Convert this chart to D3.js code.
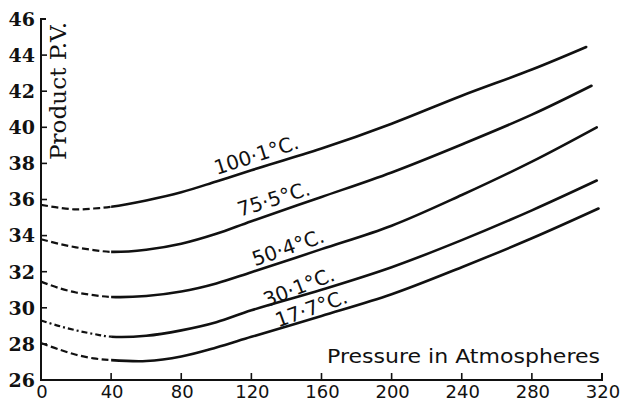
<!DOCTYPE html>
<html>
<head>
<meta charset="utf-8">
<script src="https://cdn.jsdelivr.net/npm/d3@7"></script>
<style>
  html, body { margin: 0; padding: 0; background: #fff; }
  svg { display: block; }
</style>
</head>
<body>
<svg id="chart" width="625" height="404"></svg>
<script>
// ---- data ----
const pressure = [0, 10, 20, 30, 40, 60, 80, 100, 120, 160, 200, 240, 280];
const endPressure = [311, 314, 317, 317, 318];
const temperatures = ["100·1°C.", "75·5°C.", "50·4°C.", "30·1°C.", "17·7°C."];
const pv100 = [35.7, 35.55, 35.45, 35.5, 35.6, 35.95, 36.4, 37.0, 37.62, 38.82, 40.2, 41.75, 43.2, 44.45];
const pv75  = [33.8, 33.55, 33.35, 33.2, 33.1, 33.22, 33.55, 34.1, 34.8, 36.14, 37.5, 39.05, 40.7, 42.3];
const pv50  = [31.45, 31.1, 30.85, 30.7, 30.6, 30.65, 30.9, 31.35, 31.97, 33.25, 34.55, 36.25, 38.1, 40.0];
const pv30  = [29.3, 29.0, 28.75, 28.55, 28.4, 28.45, 28.75, 29.2, 29.86, 31.0, 32.25, 33.75, 35.4, 37.05];
const pv17  = [28.05, 27.7, 27.4, 27.2, 27.1, 27.05, 27.3, 27.8, 28.39, 29.55, 30.75, 32.25, 33.85, 35.5];
const seriesValues = [pv100, pv75, pv50, pv30, pv17];
const xTicks = [0, 40, 80, 120, 160, 200, 240, 280, 320];
const yTicks = [26, 28, 30, 32, 34, 36, 38, 40, 42, 44, 46];
const dashedUntil = 40;

// label placement (pressure where label starts, pixel offset from curve, angle)
const labelAt = [100.2, 113.5, 122.1, 128.7, 135.4];
const labelDy = [-6.4, -8.6, -4.7, 1.4, -1.3];
const labelAngle = [-17.8, -17.2, -19.2, -21.5, -19.6];

// ---- layout ----
const svg = d3.select("#chart");
const x = d3.scaleLinear().domain([0, 320]).range([41, 602]);
const y = d3.scaleLinear().domain([26, 46]).range([380, 19]);
const ink = "#111";

// clip regions for dashed / solid parts
const defs = svg.append("defs");
defs.append("clipPath").attr("id", "clipDash").append("rect")
  .attr("x", 0).attr("y", 0).attr("width", x(dashedUntil)).attr("height", 404);
defs.append("clipPath").attr("id", "clipSolid").append("rect")
  .attr("x", x(dashedUntil)).attr("y", 0).attr("width", 625 - x(dashedUntil)).attr("height", 404);

// axes
const g = svg.append("g");
g.append("path")
  .attr("d", `M${x(0)+5},${y(46)} H${x(0)} V${y(26)} H${x(320)} V${y(26)-7}`)
  .attr("fill", "none").attr("stroke", ink).attr("stroke-width", 2);

// y ticks (inward)
g.selectAll(".yt").data(yTicks.filter(d => d > 26 && d < 46)).enter()
  .append("line")
  .attr("x1", x(0)).attr("x2", x(0) + 6)
  .attr("y1", d => y(d)).attr("y2", d => y(d))
  .attr("stroke", ink).attr("stroke-width", 1.6);

// x ticks (upward)
g.selectAll(".xt").data(xTicks.filter(d => d > 0 && d < 320)).enter()
  .append("line")
  .attr("x1", d => x(d)).attr("x2", d => x(d))
  .attr("y1", y(26)).attr("y2", y(26) - 7)
  .attr("stroke", ink).attr("stroke-width", 1.6);

// y tick labels
g.selectAll(".yl").data(yTicks).enter()
  .append("text")
  .attr("x", 35)
  .attr("y", d => y(d))
  .attr("dy", "0.36em")
  .attr("text-anchor", "end")
  .attr("font-family", "DejaVu Serif")
  .attr("font-weight", "bold")
  .attr("font-size", 19)
  .attr("fill", ink)
  .text(d => d);

// x tick labels
g.selectAll(".xl").data(xTicks).enter()
  .append("text")
  .attr("x", d => x(d) + 1)
  .attr("y", 398)
  .attr("text-anchor", "middle")
  .attr("font-family", "DejaVu Sans")
  .attr("font-size", 18)
  .attr("fill", ink)
  .text(d => d);

// axis titles
svg.append("text")
  .attr("x", 327).attr("y", 363)
  .attr("font-family", "DejaVu Sans")
  .attr("font-size", 19)
  .attr("textLength", 273).attr("lengthAdjust", "spacingAndGlyphs")
  .attr("fill", ink)
  .text("Pressure in Atmospheres");

svg.append("text")
  .attr("transform", "translate(66,160) rotate(-90)")
  .attr("font-family", "DejaVu Serif")
  .attr("font-size", 22)
  .attr("textLength", 138).attr("lengthAdjust", "spacingAndGlyphs")
  .attr("fill", ink)
  .text("Product P.V.");

// curves
const line = d3.line().x(d => x(d[0])).y(d => y(d[1])).curve(d3.curveCatmullRom.alpha(0.5));

seriesValues.forEach((vals, i) => {
  const pts = pressure.map((p, j) => [p, vals[j]]).concat([[endPressure[i], vals[vals.length - 1]]]);
  const dPath = line(pts);
  svg.append("path").attr("d", dPath)
    .attr("clip-path", "url(#clipDash)")
    .attr("fill", "none").attr("stroke", ink).attr("stroke-width", 2.2)
    .attr("stroke-dasharray", i === 3 ? "6,3,2,3" : "7,3.5");
  svg.append("path").attr("d", dPath)
    .attr("clip-path", "url(#clipSolid)")
    .attr("fill", "none").attr("stroke", ink).attr("stroke-width", 2.6)
    .attr("stroke-linecap", "round");

  // label
  const lx = labelAt[i];
  const interp = d3.scaleLinear().domain(pts.map(d => d[0])).range(pts.map(d => d[1]));
  const px = x(lx), py = y(interp(lx)) + labelDy[i];
  svg.append("text")
    .attr("transform", `translate(${px},${py}) rotate(${labelAngle[i]})`)
    .attr("font-family", "DejaVu Sans")
    .attr("font-size", 20)
    .attr("fill", ink)
    .text(temperatures[i]);
});
</script>
</body>
</html>
